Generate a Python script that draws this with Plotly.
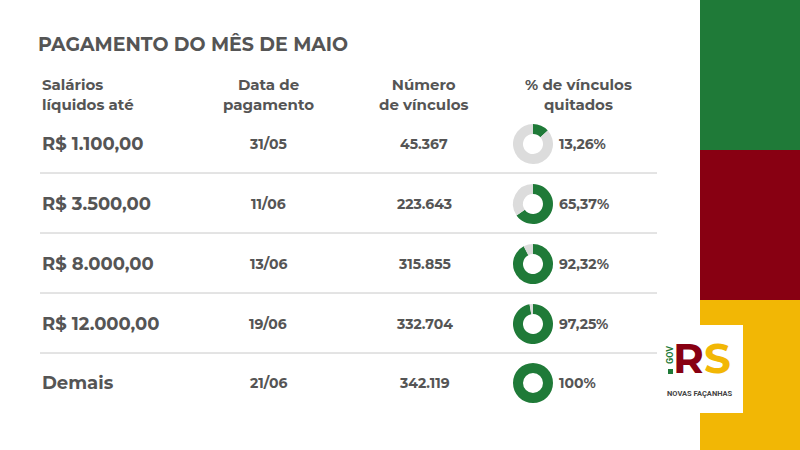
import plotly.graph_objects as go

salarios = ["R$ 1.100,00", "R$ 3.500,00", "R$ 8.000,00", "R$ 12.000,00", "Demais"]
datas = ["31/05", "11/06", "13/06", "19/06", "21/06"]
vinculos = ["45.367", "223.643", "315.855", "332.704", "342.119"]
pct_labels = ["13,26%", "65,37%", "92,32%", "97,25%", "100%"]
pct_values = [13.26, 65.37, 92.32, 97.25, 100.0]
headers = ["Salários<br>líquidos até", "Data de<br>pagamento", "Número<br>de vínculos", "% de vínculos<br>quitados"]

W, H = 800, 450
GREEN, RED, YELLOW, GRAY, LGRAY = "#1f7a38", "#880012", "#f2b705", "#555555", "#dcdcdc"
FONT = "Montserrat, Lato, Open Sans, sans-serif"

def px(x): return x / W
def py(y): return 1 - y / H

fig = go.Figure()
rows_y = [144, 204, 264, 324, 383]
r = 20
for i, v in enumerate(pct_values):
    cy = rows_y[i]
    fig.add_trace(go.Pie(values=[v, 100 - v], hole=0.5, sort=False, direction="clockwise",
                         rotation=0, marker=dict(colors=[GREEN, LGRAY], line=dict(width=0)),
                         textinfo="none", hoverinfo="skip", showlegend=False,
                         domain=dict(x=[px(533 - r), px(533 + r)], y=[py(cy + r), py(cy - r)])))

shapes = [
    dict(type="rect", xref="paper", yref="paper", x0=px(700), x1=1, y0=py(150), y1=1, fillcolor=GREEN, line_width=0),
    dict(type="rect", xref="paper", yref="paper", x0=px(700), x1=1, y0=py(300), y1=py(150), fillcolor=RED, line_width=0),
    dict(type="rect", xref="paper", yref="paper", x0=px(700), x1=1, y0=0, y1=py(300), fillcolor=YELLOW, line_width=0),
    dict(type="rect", xref="paper", yref="paper", x0=px(655), x1=px(743), y0=py(413), y1=py(325), fillcolor="white", line_width=0),
    dict(type="rect", xref="paper", yref="paper", x0=px(668), x1=px(673), y0=py(374), y1=py(369), fillcolor=GREEN, line_width=0),
]
for y in [173, 233, 293, 353]:
    shapes.append(dict(type="line", xref="paper", yref="paper", x0=px(40), x1=px(657), y0=py(y), y1=py(y),
                       line=dict(color="#c8c8c8", width=1)))

ann = []
def t(x, y, s, size, anchor="center", color=GRAY, bold=True, xanchor=None):
    ann.append(dict(x=px(x), y=py(y), xref="paper", yref="paper", text=f"<b>{s}</b>" if bold else s,
                    showarrow=False, xanchor=xanchor or anchor, yanchor="middle",
                    font=dict(family=FONT, size=size, color=color), align=anchor))

t(36, 45, "PAGAMENTO DO MÊS DE MAIO", 19, xanchor="left")
t(40, 94, headers[0], 15, anchor="left")
t(268, 94, headers[1], 15)
t(424, 94, headers[2], 15)
t(578, 94, headers[3], 15)
for i in range(5):
    y = rows_y[i]
    t(40, y, salarios[i], 18, anchor="left")
    t(268, y, datas[i], 14)
    t(424, y, vinculos[i], 14)
    t(557, y, pct_labels[i], 14, anchor="left")

# logo
ann.append(dict(x=px(702), y=py(358), xref="paper", yref="paper",
                text=f"<b><span style='color:{RED}'>R</span><span style='color:{YELLOW}'>S</span></b>",
                showarrow=False, font=dict(family="Montserrat, Lato, sans-serif", size=42, color=RED),
                xanchor="center", yanchor="middle"))
ann.append(dict(x=px(700), y=py(393), xref="paper", yref="paper", text="<b>NOVAS FAÇANHAS</b>", showarrow=False,
                font=dict(family="Roboto, sans-serif", size=7.5, color="#444"), xanchor="center", yanchor="middle"))
ann.append(dict(x=px(670), y=py(355), xref="paper", yref="paper", text="<b>GOV</b>", showarrow=False, textangle=-90,
                font=dict(family="Roboto, sans-serif", size=9, color=GREEN), xanchor="center", yanchor="middle"))

fig.update_layout(width=W, height=H, margin=dict(l=0, r=0, t=0, b=0), paper_bgcolor="white",
                  plot_bgcolor="white", shapes=shapes, annotations=ann,
                  xaxis=dict(visible=False), yaxis=dict(visible=False))
fig.write_html("out.html", config={"displayModeBar": False}, post_script="document.body.style.margin='0';")
